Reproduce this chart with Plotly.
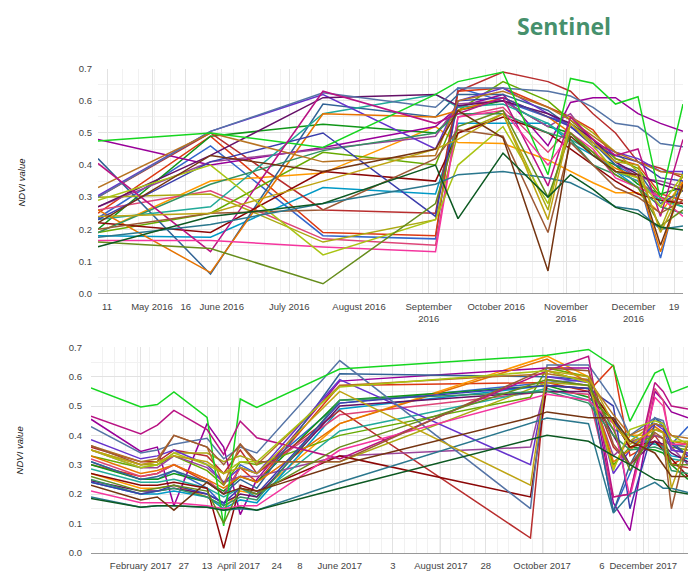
import plotly.graph_objects as go

# Acquisition dates (Sentinel-2 scenes)
dates_2016 = ["2016-04-07", "2016-05-27", "2016-07-16", "2016-09-04", "2016-09-14",
              "2016-10-04", "2016-10-24", "2016-11-03", "2016-11-13", "2016-11-23",
              "2016-12-03", "2016-12-13", "2016-12-23"]
dates_2017 = ["2017-01-02", "2017-02-01", "2017-02-11", "2017-02-21", "2017-03-13",
              "2017-03-23", "2017-04-02", "2017-04-12", "2017-06-01", "2017-09-24",
              "2017-10-04", "2017-10-29", "2017-11-13", "2017-11-23", "2017-12-08",
              "2017-12-13", "2017-12-18", "2017-12-28"]

colors = ["#3366cc", "#dc3912", "#ff9900", "#109618", "#990099", "#0099c6", "#dd4477",
          "#66aa00", "#b82e2e", "#316395", "#994499", "#22aa99", "#aaaa11", "#6633cc",
          "#e67300", "#8b0707", "#651067", "#329262", "#5574a6", "#3b3eac", "#b77322",
          "#16d620", "#b91383", "#f4359e", "#9c5935", "#a9c413", "#2a778d", "#668d1c",
          "#bea413", "#0c5922", "#743411"]

# NDVI per parcel, 2016 season
ndvi_2016 = [
    [0.235, 0.46, 0.18, 0.17, 0.64, 0.60, 0.55, 0.53, 0.47, 0.40, 0.36, 0.11, 0.38],
    [0.25, 0.49, 0.19, 0.18, 0.63, 0.64, 0.58, 0.55, 0.51, 0.42, 0.40, 0.31, 0.29],
    [0.19, 0.35, 0.375, 0.52, 0.47, 0.467, 0.416, 0.38, 0.345, 0.314, 0.314, 0.25, 0.35],
    [0.20, 0.49, 0.527, 0.50, 0.57, 0.60, 0.52, 0.50, 0.43, 0.40, 0.34, 0.31, 0.33],
    [0.48, 0.40, 0.455, 0.52, 0.58, 0.62, 0.46, 0.595, 0.61, 0.61, 0.56, 0.53, 0.505],
    [0.18, 0.175, 0.33, 0.31, 0.53, 0.53, 0.53, 0.47, 0.43, 0.38, 0.33, 0.30, 0.27],
    [0.26, 0.32, 0.17, 0.15, 0.55, 0.58, 0.44, 0.52, 0.46, 0.38, 0.35, 0.30, 0.28],
    [0.19, 0.25, 0.44, 0.40, 0.57, 0.66, 0.60, 0.54, 0.48, 0.42, 0.39, 0.30, 0.27],
    [0.30, 0.50, 0.26, 0.25, 0.63, 0.69, 0.66, 0.63, 0.56, 0.50, 0.41, 0.39, 0.36],
    [0.42, 0.06, 0.59, 0.55, 0.62, 0.62, 0.57, 0.52, 0.47, 0.40, 0.38, 0.28, 0.32],
    [0.27, 0.41, 0.45, 0.49, 0.59, 0.60, 0.52, 0.56, 0.47, 0.41, 0.36, 0.35, 0.33],
    [0.23, 0.27, 0.56, 0.62, 0.58, 0.59, 0.53, 0.48, 0.44, 0.38, 0.35, 0.29, 0.27],
    [0.30, 0.31, 0.16, 0.23, 0.50, 0.56, 0.26, 0.55, 0.50, 0.44, 0.38, 0.20, 0.37],
    [0.305, 0.505, 0.62, 0.45, 0.60, 0.64, 0.56, 0.52, 0.47, 0.44, 0.42, 0.38, 0.38],
    [0.26, 0.065, 0.56, 0.55, 0.57, 0.61, 0.55, 0.50, 0.44, 0.39, 0.36, 0.13, 0.35],
    [0.22, 0.19, 0.38, 0.35, 0.50, 0.55, 0.50, 0.45, 0.40, 0.35, 0.31, 0.29, 0.28],
    [0.27, 0.43, 0.61, 0.62, 0.585, 0.60, 0.56, 0.53, 0.48, 0.41, 0.37, 0.34, 0.32],
    [0.19, 0.34, 0.445, 0.50, 0.56, 0.56, 0.50, 0.48, 0.40, 0.37, 0.33, 0.27, 0.25],
    [0.30, 0.505, 0.625, 0.58, 0.64, 0.64, 0.63, 0.615, 0.58, 0.53, 0.52, 0.467, 0.457],
    [0.23, 0.41, 0.50, 0.24, 0.60, 0.61, 0.55, 0.52, 0.46, 0.43, 0.41, 0.36, 0.35],
    [0.33, 0.50, 0.41, 0.43, 0.60, 0.63, 0.58, 0.54, 0.49, 0.44, 0.41, 0.38, 0.37],
    [0.475, 0.50, 0.455, 0.62, 0.66, 0.69, 0.37, 0.67, 0.655, 0.59, 0.613, 0.29, 0.59],
    [0.405, 0.13, 0.63, 0.53, 0.56, 0.61, 0.335, 0.55, 0.48, 0.43, 0.45, 0.24, 0.48],
    [0.165, 0.165, 0.145, 0.13, 0.55, 0.57, 0.40, 0.50, 0.45, 0.36, 0.33, 0.30, 0.24],
    [0.20, 0.25, 0.26, 0.42, 0.51, 0.49, 0.19, 0.47, 0.40, 0.33, 0.30, 0.25, 0.29],
    [0.29, 0.40, 0.12, 0.23, 0.40, 0.52, 0.28, 0.53, 0.46, 0.38, 0.36, 0.27, 0.37],
    [0.175, 0.215, 0.28, 0.34, 0.37, 0.38, 0.36, 0.345, 0.31, 0.27, 0.26, 0.20, 0.21],
    [0.16, 0.14, 0.03, 0.28, 0.52, 0.57, 0.30, 0.50, 0.44, 0.37, 0.33, 0.21, 0.26],
    [0.24, 0.25, 0.35, 0.45, 0.48, 0.56, 0.23, 0.53, 0.47, 0.41, 0.40, 0.19, 0.33],
    [0.145, 0.24, 0.28, 0.40, 0.233, 0.437, 0.30, 0.37, 0.324, 0.268, 0.248, 0.207, 0.198],
    [0.22, 0.43, 0.38, 0.45, 0.57, 0.485, 0.07, 0.49, 0.43, 0.38, 0.37, 0.15, 0.34],
]

# NDVI per parcel, 2017 season (None = no clear acquisition)
N = None
ndvi_2017 = [
    [0.31, 0.25, 0.25, 0.28, 0.22, 0.16, 0.30, 0.27, 0.51, N, 0.58, 0.59, 0.14, 0.27, 0.46, 0.43, 0.37, 0.43],
    [0.30, 0.26, 0.27, 0.30, 0.24, 0.20, 0.29, 0.24, 0.57, N, 0.58, 0.55, 0.64, 0.33, 0.38, 0.36, 0.30, 0.33],
    [0.27, 0.22, 0.22, 0.23, 0.19, 0.15, 0.21, 0.20, 0.44, N, 0.67, 0.60, 0.29, 0.40, 0.40, 0.39, 0.37, 0.36],
    [0.30, 0.25, 0.25, 0.27, 0.24, 0.21, 0.26, 0.24, 0.52, N, 0.57, 0.53, 0.45, 0.36, 0.35, 0.34, 0.30, 0.25],
    [0.455, 0.345, 0.36, 0.16, 0.44, 0.36, 0.13, 0.25, 0.585, N, 0.63, 0.63, 0.17, 0.075, 0.55, 0.52, 0.48, 0.46],
    [0.24, 0.20, 0.20, 0.21, 0.19, 0.15, 0.18, 0.17, 0.49, N, 0.57, 0.56, 0.45, 0.38, 0.37, 0.36, 0.33, 0.32],
    [0.32, 0.26, 0.27, 0.30, 0.25, 0.20, 0.29, 0.27, 0.47, N, 0.55, 0.54, 0.19, 0.20, 0.56, 0.52, 0.35, 0.34],
    [0.33, 0.29, 0.30, 0.33, 0.28, 0.23, 0.31, 0.30, 0.40, 0.53, 0.63, 0.60, 0.30, 0.36, 0.40, 0.39, 0.36, 0.35],
    [0.36, 0.31, 0.31, 0.35, 0.33, 0.27, 0.35, 0.27, 0.485, 0.05, 0.62, 0.58, 0.36, 0.30, 0.40, 0.36, 0.30, 0.29],
    [0.31, 0.25, 0.26, 0.28, 0.24, 0.20, 0.25, 0.22, 0.61, N, 0.60, 0.59, 0.14, 0.30, 0.46, 0.44, 0.38, 0.33],
    [0.35, 0.29, 0.29, 0.33, 0.29, 0.24, 0.26, 0.26, 0.33, 0.36, 0.59, 0.57, 0.33, 0.38, 0.40, 0.39, 0.36, 0.30],
    [0.285, 0.24, 0.24, 0.25, 0.22, 0.19, 0.22, 0.19, 0.415, N, 0.56, 0.52, 0.42, 0.40, 0.37, 0.36, 0.32, 0.31],
    [0.35, 0.30, 0.30, 0.34, 0.34, 0.31, 0.33, 0.31, 0.31, N, 0.58, 0.57, 0.44, 0.38, 0.44, 0.43, 0.40, 0.37],
    [0.385, 0.32, 0.33, 0.35, 0.30, 0.24, 0.29, 0.27, 0.59, 0.30, 0.60, 0.58, 0.27, 0.35, 0.44, 0.42, 0.35, 0.34],
    [0.33, 0.27, 0.28, 0.30, 0.25, 0.22, 0.26, 0.24, 0.44, N, 0.66, 0.58, 0.31, 0.35, 0.43, 0.41, 0.38, 0.37],
    [0.27, 0.23, 0.23, 0.24, 0.22, 0.015, 0.23, 0.21, 0.33, 0.19, 0.57, 0.56, 0.45, 0.36, 0.38, 0.35, 0.32, 0.26],
    [0.245, 0.21, 0.21, 0.22, 0.20, 0.17, 0.20, 0.19, 0.50, N, 0.55, 0.55, 0.40, 0.30, 0.38, 0.37, 0.34, 0.31],
    [0.25, 0.20, 0.21, 0.22, 0.19, 0.16, 0.19, 0.18, 0.52, N, 0.55, 0.51, 0.40, 0.35, 0.36, 0.35, 0.28, 0.27],
    [0.43, 0.34, 0.35, 0.37, 0.39, 0.32, 0.36, 0.34, 0.655, 0.15, 0.64, 0.64, 0.52, 0.40, 0.46, 0.45, 0.37, 0.36],
    [0.24, 0.20, 0.21, 0.23, 0.20, 0.17, 0.22, 0.20, 0.51, N, 0.57, 0.56, 0.50, 0.15, 0.44, 0.43, 0.37, 0.33],
    [0.365, 0.31, 0.32, 0.40, 0.36, 0.23, 0.37, 0.30, 0.57, N, 0.61, 0.59, 0.47, 0.40, 0.44, 0.43, 0.40, 0.39],
    [0.562, 0.497, 0.505, 0.548, 0.461, 0.091, 0.524, 0.495, 0.626, N, 0.673, 0.693, 0.637, 0.448, 0.612, 0.626, 0.545, 0.567],
    [0.465, 0.405, 0.435, 0.485, 0.42, 0.335, 0.448, 0.392, 0.32, N, 0.62, 0.67, 0.19, 0.20, 0.58, 0.55, 0.50, 0.49],
    [0.21, 0.17, 0.17, 0.17, 0.16, 0.15, 0.16, 0.16, 0.35, N, 0.54, 0.52, 0.44, 0.19, 0.53, 0.50, 0.37, 0.37],
    [0.365, 0.30, 0.31, 0.40, 0.36, 0.30, 0.37, 0.31, 0.31, N, 0.63, 0.62, 0.37, 0.30, 0.41, 0.39, 0.15, 0.38],
    [0.35, 0.29, 0.30, 0.34, 0.30, 0.27, 0.31, 0.31, 0.565, N, 0.62, 0.58, 0.28, 0.42, 0.45, 0.44, 0.38, 0.38],
    [0.19, 0.155, 0.16, 0.16, 0.155, 0.145, 0.15, 0.145, 0.24, N, 0.459, 0.44, 0.135, 0.20, 0.24, 0.22, 0.22, 0.205],
    [0.26, 0.21, 0.22, 0.23, 0.21, 0.10, 0.22, 0.20, 0.36, N, 0.59, 0.57, 0.42, 0.28, 0.42, 0.41, 0.30, 0.30],
    [0.35, 0.30, 0.31, 0.33, 0.31, 0.27, 0.29, 0.27, 0.55, 0.23, 0.62, 0.60, 0.44, 0.37, 0.42, 0.41, 0.22, 0.38],
    [0.185, 0.155, 0.16, 0.16, 0.155, 0.145, 0.155, 0.145, 0.22, N, 0.40, 0.38, 0.33, 0.30, 0.25, 0.245, 0.21, 0.20],
    [0.23, 0.18, 0.19, 0.145, 0.24, 0.20, 0.22, 0.21, 0.30, 0.46, 0.48, 0.46, 0.46, 0.38, 0.34, 0.30, 0.26, 0.26],
]

# Axis labels
ticks_2016 = ["2016-04-11", "2016-05-01", "2016-05-16", "2016-06-01", "2016-07-01",
              "2016-08-01", "2016-09-01", "2016-10-01", "2016-11-01", "2016-12-01", "2016-12-19"]
labels_2016 = ["11", "May 2016", "16", "June 2016", "July 2016", "August 2016",
               "September<br>2016", "October 2016", "November<br>2016", "December<br>2016", "19"]
ticks_2017 = ["2017-02-01", "2017-02-27", "2017-03-13", "2017-04-01", "2017-04-24",
              "2017-05-08", "2017-06-01", "2017-07-03", "2017-08-01", "2017-08-28",
              "2017-10-01", "2017-11-06", "2017-12-01"]
labels_2017 = ["February 2017", "27", "13", "April 2017", "24", "8", "June 2017", "3",
               "August 2017", "28", "October 2017", "6", "December 2017"]
y_ticks = [0.0, 0.1, 0.2, 0.3, 0.4, 0.5, 0.6, 0.7]

fig = go.Figure()
for i, vals in enumerate(ndvi_2016):
    fig.add_trace(go.Scatter(x=dates_2016, y=vals, mode="lines", xaxis="x", yaxis="y",
                             line=dict(color=colors[i % len(colors)], width=1.5),
                             connectgaps=True, showlegend=False))
for i, vals in enumerate(ndvi_2017):
    fig.add_trace(go.Scatter(x=dates_2017, y=vals, mode="lines", xaxis="x2", yaxis="y2",
                             line=dict(color=colors[i % len(colors)], width=1.5),
                             connectgaps=True, showlegend=False))

W, H = 696, 578
tick_font = dict(family="Liberation Sans, Arial, sans-serif", size=9.5, color="#444444")
grid = "#e2e2e2"
minor_grid = "#f1f1f1"
week = 7 * 86400000


def xaxis_cfg(domain, anchor, rng, tv, tt, tick0):
    return dict(domain=domain, anchor=anchor, type="date", range=rng,
                tickmode="array", tickvals=tv, ticktext=tt, tickfont=tick_font,
                showgrid=True, gridcolor=grid, gridwidth=1, zeroline=False,
                showline=True, linecolor="#999999", linewidth=1, ticks="",
                ticklabelstandoff=4,
                minor=dict(dtick=week, tick0=tick0, showgrid=True,
                           gridcolor=minor_grid, gridwidth=1))


def yaxis_cfg(domain, anchor, standoff):
    return dict(domain=domain, anchor=anchor, range=[0, 0.7], tickmode="array",
                tickvals=y_ticks, tickformat=".1f", tickfont=tick_font,
                showgrid=True, gridcolor=grid, gridwidth=1, zeroline=False,
                showline=False, ticks="", ticklabelstandoff=standoff,
                minor=dict(dtick=0.05, showgrid=True, gridcolor=minor_grid))


fig.update_layout(
    width=W, height=H,
    margin=dict(l=0, r=0, t=0, b=0),
    paper_bgcolor="white", plot_bgcolor="white",
    showlegend=False,
    xaxis=xaxis_cfg([98 / W, 683 / W], "y", ["2016-04-07", "2016-12-23"],
                    ticks_2016, labels_2016, "2016-04-11"),
    yaxis=yaxis_cfg([1 - 293 / H, 1 - 64 / H], "x", 5),
    xaxis2=xaxis_cfg([91 / W, 688 / W], "y2", ["2017-01-02", "2017-12-28"],
                     ticks_2017, labels_2017, "2017-01-02"),
    yaxis2=yaxis_cfg([1 - 557.3 / H, 1 - 348 / H], "x2", 8),
    annotations=[
        dict(text="<b>Sentinel</b>", x=564 / W, y=1 - 20 / H, xref="paper", yref="paper",
             showarrow=False, xanchor="center", yanchor="middle",
             font=dict(family="Open Sans, sans-serif", size=23, color="#46906c")),
        dict(text="<i>NDVI value</i>", x=22 / W, y=1 - 180 / H, xref="paper", yref="paper",
             showarrow=False, textangle=-90, xanchor="center", yanchor="middle",
             font=dict(family="Liberation Sans, Arial, sans-serif", size=9.5, color="#222222")),
        dict(text="<i>NDVI value</i>", x=19 / W, y=1 - 453 / H, xref="paper", yref="paper",
             showarrow=False, textangle=-90, xanchor="center", yanchor="middle",
             font=dict(family="Liberation Sans, Arial, sans-serif", size=9.5, color="#222222")),
    ],
)

fig.write_html("out.html")
